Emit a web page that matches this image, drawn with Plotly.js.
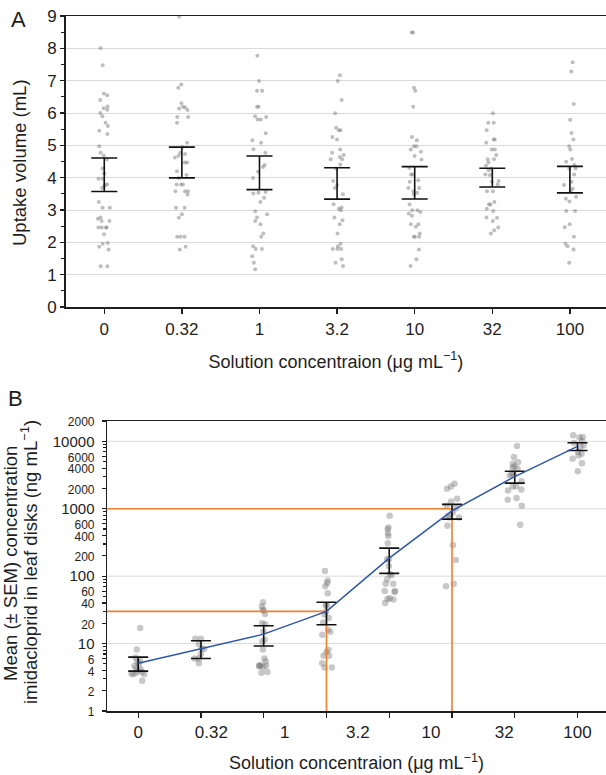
<!DOCTYPE html>
<html>
<head>
<meta charset="utf-8">
<script src="https://cdn.plot.ly/plotly-3.0.1.min.js"></script>
<style>
  html, body { margin: 0; padding: 0; background: #fff; }
  #chart { width: 606px; height: 775px; }
</style>
</head>
<body>
<div id="chart"></div>
<script>
// Solution concentrations (µg/mL) used as category labels
const concLabels = ['0', '0.32', '1', '3.2', '10', '32', '100'];

// Panel A: uptake volume (mL) of each leaf disk, by solution concentration
const vol_0 = [8.0, 7.48, 6.6, 6.55, 6.4, 6.2, 6.15, 6.1, 6.0, 5.9, 5.7, 5.6, 5.45, 5.35, 4.97, 4.77, 4.68, 4.56, 4.28, 4.13, 3.97, 3.97, 3.79, 3.79, 3.73, 3.68, 3.25, 3.07, 3.07, 2.77, 2.73, 2.66, 2.66, 2.46, 2.46, 2.46, 2.46, 2.25, 1.98, 1.96, 1.86, 1.78, 1.26, 1.26];
const vol_0_32 = [8.98, 6.88, 6.78, 6.3, 6.19, 6.17, 6.14, 6.09, 5.88, 5.88, 5.7, 5.08, 4.95, 4.77, 4.73, 4.68, 4.62, 4.47, 4.47, 4.2, 4.08, 3.99, 3.79, 3.79, 3.79, 3.58, 3.58, 3.58, 3.48, 3.07, 3.07, 2.87, 2.76, 2.17, 2.17, 2.17, 1.86, 1.78];
const vol_1 = [7.77, 6.99, 6.69, 6.69, 6.19, 6.19, 5.9, 5.88, 5.8, 5.8, 5.37, 5.16, 5.08, 4.88, 4.77, 4.39, 4.33, 4.18, 3.99, 3.56, 3.53, 3.51, 3.38, 3.25, 2.96, 2.87, 2.77, 2.66, 2.56, 2.27, 2.17, 1.88, 1.79, 1.79, 1.57, 1.37, 1.17];
const vol_3_2 = [7.17, 6.99, 6.4, 5.99, 5.54, 5.47, 5.47, 5.26, 5.18, 4.87, 4.77, 4.7, 4.64, 4.57, 4.57, 4.41, 4.28, 3.9, 3.77, 3.68, 3.49, 3.18, 3.08, 3.04, 2.99, 2.77, 2.68, 2.56, 2.27, 1.96, 1.88, 1.79, 1.79, 1.79, 1.48, 1.37, 1.27];
const vol_10 = [8.49, 8.49, 6.78, 6.69, 6.19, 5.26, 5.16, 4.97, 4.97, 4.87, 4.8, 4.67, 4.56, 4.3, 4.1, 4.1, 3.92, 3.87, 3.68, 3.68, 3.58, 3.53, 3.48, 3.17, 2.99, 2.99, 2.94, 2.89, 2.82, 2.56, 2.56, 2.48, 2.27, 2.17, 2.17, 2.17, 1.78, 1.48, 1.27];
const vol_32 = [5.99, 5.7, 5.7, 5.47, 5.18, 5.18, 5.08, 4.87, 4.87, 4.7, 4.57, 4.57, 4.47, 4.37, 4.28, 4.23, 4.1, 4.08, 3.9, 3.87, 3.79, 3.58, 3.58, 3.25, 3.18, 3.17, 3.04, 2.97, 2.77, 2.76, 2.66, 2.46, 2.37, 2.27];
const vol_100 = [7.57, 7.28, 6.28, 5.79, 5.38, 5.18, 4.97, 4.87, 4.58, 4.49, 4.39, 4.28, 4.28, 4.1, 3.87, 3.77, 3.66, 3.58, 3.41, 3.35, 3.26, 2.97, 2.97, 2.56, 2.47, 2.17, 1.96, 1.88, 1.78, 1.37];
const volMean = [4.09, 4.47, 4.15, 3.82, 3.84, 4.0, 3.94];
const volErr = [0.52, 0.475, 0.52, 0.485, 0.5, 0.29, 0.41];

// Panel B: imidacloprid concentration in leaf disks (ng/mL), one array per dose group
const leaf_g0 = [17, 8.2, 6.2, 5.5, 5.4, 5.0, 4.7, 4.3, 4.2, 4.0, 3.8, 3.7, 3.6, 3.5, 3.5, 2.8];
const leaf_g1 = [11.8, 11.8, 9.8, 8.5, 8.3, 7.0, 6.0, 6.0, 5.1];
const leaf_g2 = [40.9, 35.6, 31.8, 31, 27.4, 20.1, 19.4, 15.1, 11.4, 10.7, 8.2, 6.0, 5.4, 4.8, 4.7, 4.6, 4.5, 4.7, 3.8, 3.7];
const leaf_g3 = [119, 86, 79, 71, 56, 37, 37, 30, 27, 24, 20.6, 16, 15, 13.5, 8.1, 7.5, 6.6, 6.6, 5.1, 4.4, 4.4];
const leaf_g4 = [787, 525, 498, 428, 395, 308, 178, 178, 141, 108, 103, 90, 77, 77, 60, 60, 58, 47, 46, 45, 40];
const leaf_g5 = [2340, 2130, 1970, 1400, 1285, 1110, 1020, 880, 787, 741, 741, 557, 290, 173, 77, 71];
const leaf_g6 = [8500, 5830, 4900, 4650, 4240, 4050, 3910, 3300, 3210, 3110, 2560, 2130, 2130, 1920, 1860, 1440, 1360, 1110, 577];
const leaf_g7 = [12300, 11600, 11400, 10000, 9440, 8710, 8220, 6920, 6550, 6170, 5500, 4740, 3610];
const leafMean = [5.1, 8.5, 13.8, 30, 185, 930, 3000, 8400];
const leafErr = [1.2, 2.5, 4.6, 11, 75, 230, 600, 1100];

// Reference levels marked in orange (ng/mL) and the dose group they meet
const refLevels = [30, 1000];
const refGroups = [3, 5];

// Log-axis tick labels for panel B
const leafTickVals = [1, 2, 4, 6, 10, 20, 40, 60, 100, 200, 400, 600, 1000, 2000, 4000, 6000, 10000, 20000];
const leafTickText = ['1', '2', '4', '6', '10', '20', '40', '60', '100', '200', '400', '600', '1000', '2000', '4000', '6000', '10000', '2000'];
const leafMinorVals = [3, 5, 7, 8, 9, 30, 50, 70, 80, 90, 300, 500, 700, 800, 900, 3000, 5000, 7000, 8000, 9000];

// ---- figure geometry (px of a 606 x 775 page) ----
const W = 606, H = 775;
const FONT = 'Liberation Sans, Arial, Helvetica, sans-serif';
const INK = '#1e1e1e';
const GRID = '#dadada';
const xRangeA = [-0.497, 6.465];
const xRangeB = [-0.497, 7.454];
const yRangeB = [0, Math.log10(20000)];

function flatten(groups) {
  const xs = [], ys = [];
  groups.forEach((g, i) => g.forEach(v => { xs.push(i); ys.push(v); }));
  return { xs, ys };
}

const volGroups = [vol_0, vol_0_32, vol_1, vol_3_2, vol_10, vol_32, vol_100];
const leafGroups = [leaf_g0, leaf_g1, leaf_g2, leaf_g3, leaf_g4, leaf_g5, leaf_g6, leaf_g7];
const A = flatten(volGroups);
const B = flatten(leafGroups);
const idxA = volMean.map((_, i) => i);
const idxB = leafMean.map((_, i) => i);

// labels of panel B spread evenly over the group positions
const labelPosB = concLabels.map((_, i) => i * (leafMean.length - 1) / (concLabels.length - 1));

const major = new Set([10, 100, 1000, 10000]);
const leafTickHtml = leafTickText.map((t, i) =>
  major.has(leafTickVals[i]) ? t : '<span style="font-size:12px">' + t + '</span>');

const traces = [
  // Panel A: jittered individual values
  {
    type: 'box', x: A.xs, y: A.ys, xaxis: 'x', yaxis: 'y',
    boxpoints: 'all', jitter: 0.7, pointpos: 0, width: 0.3,
    fillcolor: 'rgba(0,0,0,0)', line: { width: 0, color: 'rgba(0,0,0,0)' },
    marker: { size: 4, color: 'rgba(125,125,125,0.5)', line: { width: 0 } },
    hoveron: 'points', showlegend: false
  },
  // Panel A: error bars
  {
    type: 'scatter', mode: 'markers', x: idxA, y: volMean, xaxis: 'x', yaxis: 'y',
    marker: { size: 1, color: 'rgba(0,0,0,0)' },
    error_y: { type: 'data', array: volErr, visible: true, color: '#111', thickness: 1.6, width: 13 },
    showlegend: false
  },
  // Panel B: reference levels
  ...refLevels.map((lv, k) => ({
    type: 'scatter', mode: 'lines', xaxis: 'x2', yaxis: 'y2',
    x: [xRangeB[0], refGroups[k], refGroups[k]], y: [lv, lv, Math.pow(10, yRangeB[0])],
    line: { color: 'rgb(238,128,48)', width: 1.6 }, showlegend: false, hoverinfo: 'skip'
  })),
  // Panel B: jittered individual values
  {
    type: 'box', x: B.xs, y: B.ys, xaxis: 'x2', yaxis: 'y2',
    boxpoints: 'all', jitter: 0.85, pointpos: 0, width: 0.3,
    fillcolor: 'rgba(0,0,0,0)', line: { width: 0, color: 'rgba(0,0,0,0)' },
    marker: { size: 6.5, color: 'rgba(110,110,110,0.38)', line: { width: 0 } },
    hoveron: 'points', showlegend: false
  },
  // Panel B: mean line with SEM bars
  {
    type: 'scatter', mode: 'lines', x: idxB, y: leafMean, xaxis: 'x2', yaxis: 'y2',
    line: { color: 'rgb(44,86,172)', width: 1.5 },
    error_y: { type: 'data', array: leafErr, visible: true, color: '#111', thickness: 1.6, width: 10 },
    showlegend: false
  },
  // carrier for the label axis of panel B
  {
    type: 'scatter', mode: 'markers', x: [0], y: [1], xaxis: 'x3', yaxis: 'y2',
    marker: { opacity: 0 }, hoverinfo: 'skip', showlegend: false
  }
];

const tickFont = { family: FONT, size: 17, color: INK };

const layout = {
  width: W, height: H,
  margin: { l: 0, r: 0, t: 0, b: 0 },
  paper_bgcolor: '#fff', plot_bgcolor: '#fff',
  font: { family: FONT, color: INK },
  showlegend: false,
  boxmode: 'overlay',
  xaxis: {
    domain: [65.7 / W, 1], range: xRangeA, type: 'linear', anchor: 'y',
    tickvals: idxA, ticktext: concLabels, tickfont: tickFont,
    ticks: 'outside', ticklen: 5, tickwidth: 1.3, tickcolor: INK,
    ticklabelstandoff: 1,
    showline: true, linecolor: INK, linewidth: 1.5, mirror: true,
    showgrid: false, zeroline: false,
    title: { text: 'Solution concentraion (μg mL<sup>−1</sup>)', font: { family: FONT, size: 18, color: INK }, standoff: 17 }
  },
  yaxis: {
    domain: [1 - 307 / H, 1 - 16 / H], range: [0, 9], anchor: 'x',
    tickvals: [0, 1, 2, 3, 4, 5, 6, 7, 8, 9], tickfont: tickFont,
    ticks: 'outside', ticklen: 4, tickwidth: 1.3, tickcolor: INK,
    minor: { tickvals: [0.5, 1.5, 2.5, 3.5, 4.5, 5.5, 6.5, 7.5, 8.5], ticks: 'outside', ticklen: 3, tickcolor: INK, showgrid: false },
    showline: true, linecolor: INK, linewidth: 1.5,
    showgrid: true, gridcolor: GRID, gridwidth: 1, zeroline: false
  },
  xaxis2: {
    domain: [107 / W, 1], range: xRangeB, type: 'linear', anchor: 'y2',
    tickvals: idxB, showticklabels: false,
    ticks: 'outside', ticklen: 5, tickwidth: 1.3, tickcolor: INK,
    showline: true, linecolor: INK, linewidth: 1.5, mirror: true,
    showgrid: false, zeroline: false
  },
  xaxis3: {
    overlaying: 'x2', anchor: 'y2', range: xRangeB, type: 'linear', side: 'bottom',
    tickvals: labelPosB, ticktext: concLabels, tickfont: tickFont,
    ticks: '', ticklabelstandoff: 9,
    showline: false, showgrid: false, zeroline: false,
    title: { text: 'Solution concentraion (μg mL<sup>−1</sup>)', font: { family: FONT, size: 18, color: INK }, standoff: 15 }
  },
  yaxis2: {
    domain: [1 - 711 / H, 1 - 421 / H], type: 'log', range: yRangeB, anchor: 'x2',
    tickvals: leafTickVals, ticktext: leafTickHtml,
    tickfont: { family: FONT, size: 15, color: INK },
    ticks: 'outside', ticklen: 4, tickwidth: 1.2, tickcolor: INK,
    ticklabelstandoff: 4,
    minor: { tickvals: leafMinorVals, ticks: 'outside', ticklen: 2.5, tickcolor: INK, showgrid: false },
    showline: true, linecolor: INK, linewidth: 1.5,
    showgrid: false, zeroline: false
  },
  shapes: [10, 100, 1000, 10000].map(v => ({
    type: 'line', xref: 'x2 domain', yref: 'y2', x0: 0, x1: 1, y0: v, y1: v,
    line: { color: GRID, width: 1 }, layer: 'below'
  })),
  annotations: [
    { text: 'A', x: 18 / W, y: 1 - 19 / H, xref: 'paper', yref: 'paper', showarrow: false,
      xanchor: 'center', yanchor: 'middle', font: { family: FONT, size: 22, color: INK } },
    { text: 'B', x: 15 / W, y: 1 - 398 / H, xref: 'paper', yref: 'paper', showarrow: false,
      xanchor: 'center', yanchor: 'middle', font: { family: FONT, size: 22, color: INK } },
    { text: 'Uptake volume (mL)', textangle: -90, x: 19 / W, y: 1 - 163 / H, xref: 'paper', yref: 'paper',
      showarrow: false, xanchor: 'center', yanchor: 'middle', font: { family: FONT, size: 18.5, color: INK } },
    { text: 'Mean (± SEM) concentration', textangle: -90, x: 10 / W, y: 1 - 564 / H, xref: 'paper', yref: 'paper',
      showarrow: false, xanchor: 'center', yanchor: 'middle', font: { family: FONT, size: 18.5, color: INK } },
    { text: 'imidacloprid in leaf disks (ng mL<sup>−1</sup>)', textangle: -90, x: 29 / W, y: 1 - 562 / H, xref: 'paper', yref: 'paper',
      showarrow: false, xanchor: 'center', yanchor: 'middle', font: { family: FONT, size: 18.5, color: INK } }
  ]
};

Plotly.newPlot('chart', traces, layout, { staticPlot: true, displayModeBar: false });
</script>
</body>
</html>
